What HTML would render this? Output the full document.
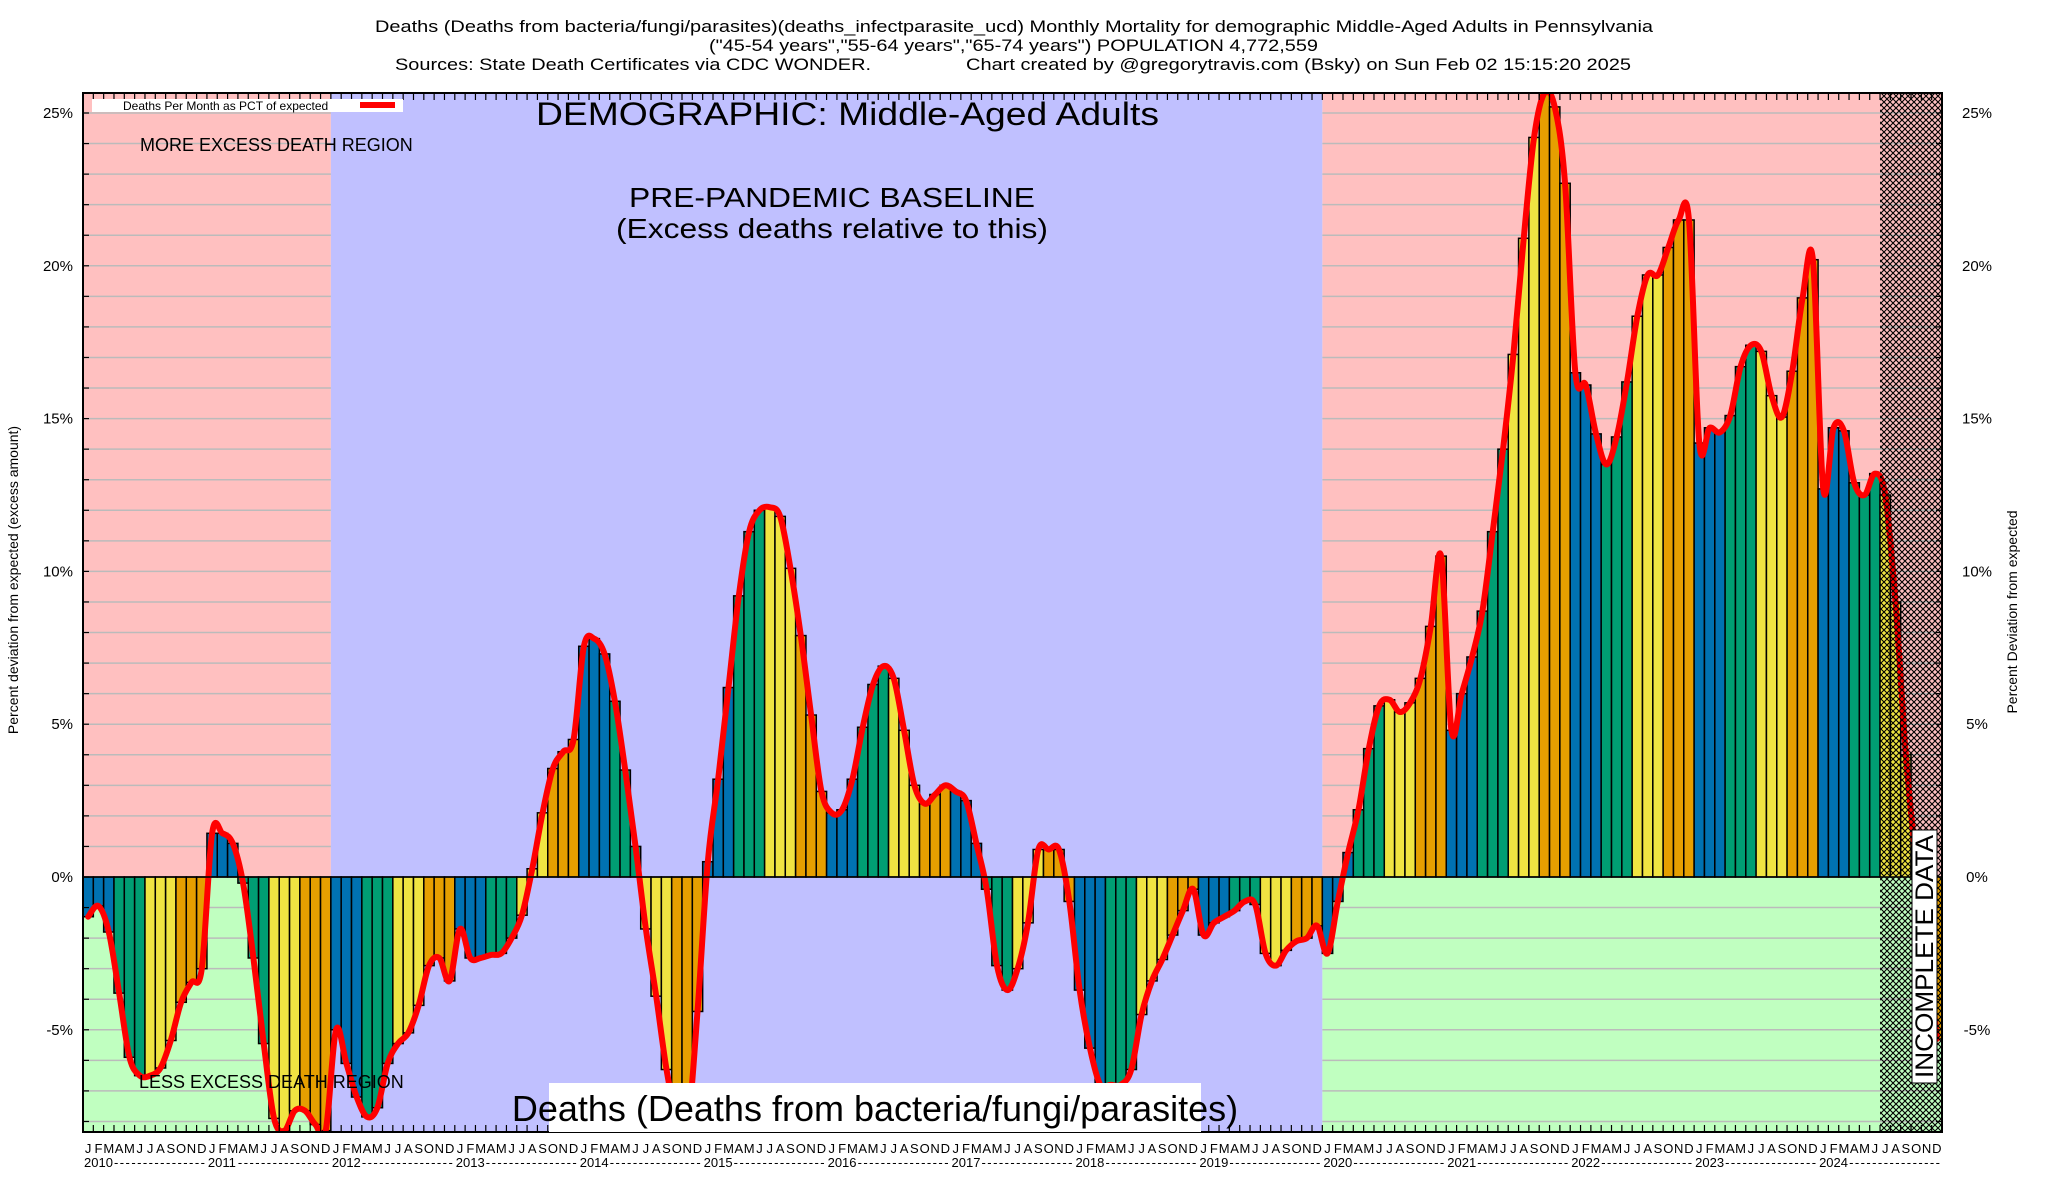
<!DOCTYPE html>
<html><head><meta charset="utf-8"><style>
html,body{margin:0;padding:0;background:#fff;}
svg{display:block;font-family:"Liberation Sans",sans-serif;}
</style></head><body>
<svg id="chart" width="2048" height="1200" viewBox="0 0 2048 1200" xmlns="http://www.w3.org/2000/svg">
<defs>
<pattern id="hatch" width="6" height="6" patternUnits="userSpaceOnUse">
<path d="M0,0 L6,6 M6,0 L0,6" stroke="#000" stroke-width="1.1"/>
</pattern>
<clipPath id="plotclip"><rect x="83" y="93" width="1859" height="1039"/></clipPath>
</defs>
<g font-size="17">
<text x="375" y="32" textLength="1278" lengthAdjust="spacingAndGlyphs">Deaths (Deaths from bacteria/fungi/parasites)(deaths_infectparasite_ucd) Monthly Mortality for demographic Middle-Aged Adults in Pennsylvania</text>
<text x="709" y="51" textLength="609" lengthAdjust="spacingAndGlyphs">("45-54 years","55-64 years","65-74 years") POPULATION 4,772,559</text>
<text x="395" y="70" textLength="476" lengthAdjust="spacingAndGlyphs">Sources: State Death Certificates via CDC WONDER.</text>
<text x="966" y="70" textLength="665" lengthAdjust="spacingAndGlyphs">Chart created by @gregorytravis.com (Bsky) on Sun Feb 02 15:15:20 2025</text>
</g>
<g id="bg"></g>
<g id="grid"></g>
<g id="bars" clip-path="url(#plotclip)"></g>
<g id="line" clip-path="url(#plotclip)"></g>
<g id="hatchg"></g>
<g id="axes"></g>
<g id="annot">
<rect x="92" y="99" width="311" height="13" fill="#fff"/>
<text x="123" y="110" font-size="12">Deaths Per Month as PCT of expected</text>
<rect x="360" y="102" width="35" height="6" fill="#ff0000"/>
<text x="536" y="125" font-size="32" textLength="623" lengthAdjust="spacingAndGlyphs">DEMOGRAPHIC: Middle-Aged Adults</text>
<text x="629" y="207" font-size="28" textLength="406" lengthAdjust="spacingAndGlyphs">PRE-PANDEMIC BASELINE</text>
<text x="616" y="238" font-size="28" textLength="432" lengthAdjust="spacingAndGlyphs">(Excess deaths relative to this)</text>
<text x="140" y="151" font-size="18">MORE EXCESS DEATH REGION</text>
<text x="139" y="1088" font-size="18">LESS EXCESS DEATH REGION</text>
<rect x="549" y="1083" width="652" height="49" fill="#fff"/>
<text x="875" y="1121" font-size="36" text-anchor="middle">Deaths (Deaths from bacteria/fungi/parasites)</text>
<g>
<rect x="1912" y="830" width="25" height="253" fill="#fff" stroke="#000" stroke-width="1"/>
<text transform="translate(1933,1078) rotate(-90)" font-size="25" textLength="243" lengthAdjust="spacingAndGlyphs">INCOMPLETE DATA</text>
</g>
<text transform="translate(18,580) rotate(-90)" font-size="14" text-anchor="middle">Percent deviation from expected (excess amount)</text>
<text transform="translate(2017,612) rotate(-90)" font-size="14" text-anchor="middle">Percent Deviation from expected</text>
</g>
</svg>
<script>
const years = [2010,2011,2012,2013,2014,2015,2016,2017,2018,2019,2020,2021,2022,2023,2024];
const monthLetters = ["J","F","M","A","M","J","J","A","S","O","N","D"];
const yTicks = [25,20,15,10,5,0,-5];
const tickLabels = ["25%","20%","15%","10%","5%","0%","-5%"];
const v2010 = [-1.3,-0.95,-1.8,-3.8,-5.9,-6.5,-6.5,-6.25,-5.35,-4.1,-3.45,-3.0];
const v2011 = [1.43,1.43,1.1,-0.2,-2.65,-5.45,-7.9,-8.3,-7.65,-7.65,-8.1,-8.3];
const v2012 = [-5.0,-6.1,-7.2,-7.85,-7.55,-6.1,-5.45,-5.1,-4.2,-2.9,-2.65,-3.4];
const v2013 = [-1.7,-2.65,-2.65,-2.55,-2.5,-2.0,-1.25,0.27,2.1,3.55,4.1,4.5];
const v2014 = [7.55,7.8,7.3,5.75,3.5,1.0,-1.7,-3.9,-6.3,-7.9,-8.3,-4.4];
const v2015 = [0.5,3.2,6.2,9.2,11.3,12.0,12.1,11.8,10.1,7.9,5.3,2.8];
const v2016 = [2.1,2.2,3.2,4.9,6.3,6.9,6.5,4.8,3.0,2.4,2.7,3.0];
const v2017 = [2.8,2.5,1.1,-0.4,-2.9,-3.7,-3.0,-1.5,0.9,0.9,0.9,-0.8];
const v2018 = [-3.7,-5.6,-6.8,-6.8,-6.8,-6.3,-4.5,-3.4,-2.7,-1.9,-1.1,-0.4];
const v2019 = [-1.9,-1.5,-1.3,-1.1,-0.8,-0.9,-2.5,-2.9,-2.4,-2.1,-2.0,-1.6];
const v2020 = [-2.5,-0.8,0.8,2.2,4.2,5.6,5.8,5.4,5.7,6.5,8.2,10.5];
const v2021 = [4.8,6.0,7.2,8.7,11.3,14.0,17.1,20.9,24.2,25.65,25.2,22.7];
const v2022 = [16.5,16.1,14.5,13.5,14.4,16.2,18.35,19.7,19.7,20.6,21.5,21.5];
const v2023 = [14.2,14.7,14.55,15.1,16.7,17.4,17.2,15.75,15.05,16.55,18.95,20.2];
const v2024 = [12.7,14.7,14.6,12.9,12.5,13.2,12.5,9.0,4.0,0.5,-2.0,-5.3];
const values = [].concat(v2010,v2011,v2012,v2013,v2014,v2015,v2016,v2017,v2018,v2019,v2020,v2021,v2022,v2023,v2024);

const NS = "http://www.w3.org/2000/svg";
const L = 83, R = 1942, T = 93, B = 1132;
const nMonths = years.length * 12;
const mw = (R - L) / nMonths;
const Y0 = 877, PER = 30.56;
const xOf = i => L + i * mw;
const yOf = v => Y0 - v * PER;
function mk(tag, attrs, parent){
  const e = document.createElementNS(NS, tag);
  for (const k in attrs) e.setAttribute(k, attrs[k]);
  parent.appendChild(e);
  return e;
}
const bg = document.getElementById('bg');
const grid = document.getElementById('grid');
const barsG = document.getElementById('bars');
const lineG = document.getElementById('line');
const axes = document.getElementById('axes');
const hatchG = document.getElementById('hatchg');

// background regions
const x2012 = xOf(24), x2020 = xOf(120), xInc = xOf(174);
let r;
r = mk('rect',{x:L,y:T,width:x2012-L,height:Y0-T,fill:'#ffc0c0'},bg);


r = mk('rect',{x:L,y:Y0,width:x2012-L,height:B-Y0,fill:'#c0ffc0'},bg);


r = mk('rect',{x:x2020,y:T,width:R-x2020,height:Y0-T,fill:'#ffc0c0'},bg);


r = mk('rect',{x:x2020,y:Y0,width:R-x2020,height:B-Y0,fill:'#c0ffc0'},bg);


// gridlines every 1%
for (let p = -8; p <= 25; p++) {
  const y = yOf(p);
  if (y < T || y > B) continue;
  const g1 = mk('line',{x1:L,x2:x2012,y1:y,y2:y,stroke:'#bbbbbb','stroke-width':1.5},grid);
  
  
  const g2 = mk('line',{x1:x2020,x2:R,y1:y,y2:y,stroke:'#bbbbbb','stroke-width':1.5},grid);
  
  
}
r = mk('rect',{x:x2012,y:T,width:x2020-x2012,height:B-T,fill:'#c0c0ff'},bg);



// bars
const qColors = ['#0072b2','#009e73','#f0e442','#e69f00'];
values.forEach((v, i) => {
  const m = i % 12;
  const y1 = yOf(Math.max(v,0)), y2 = yOf(Math.min(v,0));
  const b = mk('rect',{x:xOf(i),y:y1,width:mw,height:Math.max(y2-y1,0.5),fill:qColors[Math.floor(m/3)],stroke:'#000','stroke-width':1.5},barsG);
  
  
});

// smooth line (Catmull-Rom)
const pts = values.map((v,i) => [xOf(i)+mw/2, yOf(v)]);
let d = 'M' + pts[0][0] + ',' + pts[0][1];
for (let i = 0; i < pts.length-1; i++) {
  const p0 = pts[Math.max(i-1,0)], p1 = pts[i], p2 = pts[i+1], p3 = pts[Math.min(i+2,pts.length-1)];
  const c1x = p1[0] + (p2[0]-p0[0])/6, c1y = p1[1] + (p2[1]-p0[1])/6;
  const c2x = p2[0] - (p3[0]-p1[0])/6, c2y = p2[1] - (p3[1]-p1[1])/6;
  d += ' C' + c1x + ',' + c1y + ' ' + c2x + ',' + c2y + ' ' + p2[0] + ',' + p2[1];
}
const path = mk('path',{d:d,fill:'none',stroke:'#ff0000','stroke-width':6,'stroke-linejoin':'round','stroke-linecap':'round'},lineG);



// hatch region
r = mk('rect',{x:xInc,y:T,width:R-xInc,height:B-T,fill:'url(#hatch)'},hatchG);



// axes frame
r = mk('rect',{x:L,y:T,width:R-L,height:B-T,fill:'none',stroke:'#000','stroke-width':2},axes);


const zl = mk('line',{x1:L,x2:xInc,y1:Y0,y2:Y0,stroke:'#000','stroke-width':1.5},axes);


// month ticks
for (let i = 1; i < nMonths; i++) {
  const x = xOf(i);
  const t1 = mk('line',{x1:x,x2:x,y1:T,y2:T+7,stroke:'#000','stroke-width':1.2},axes);
  
  
  const t2 = mk('line',{x1:x,x2:x,y1:B,y2:B-7,stroke:'#000','stroke-width':1.2},axes);
  
  
}
// y ticks
for (let p = -8; p <= 25; p++) {
  const y = yOf(p);
  const t1 = mk('line',{x1:L,x2:L+6,y1:y,y2:y,stroke:'#000','stroke-width':1.2},axes);
  
  
  const t2 = mk('line',{x1:R,x2:R-6,y1:y,y2:y,stroke:'#000','stroke-width':1.2},axes);
  
  
}
yTicks.forEach((p, k) => {
  const y = yOf(p) + 5;
  const a = mk('text',{x:73,y:y,'font-size':15,'text-anchor':'end'},axes);
  a.textContent = tickLabels[k];
  
  
  const b = mk('text',{x:1977,y:y,'font-size':15,'text-anchor':'middle'},axes);
  b.textContent = tickLabels[k];
  
  
});
// x labels
for (let i = 0; i < nMonths; i++) {
  const t = mk('text',{x:xOf(i)+mw/2,y:1153,'font-size':13,'text-anchor':'middle'},axes);
  t.textContent = monthLetters[i%12];
  
  
}
years.forEach((yr, k) => {
  const x = xOf(k*12);
  const t = mk('text',{x:x+1,y:1167,'font-size':13},axes);
  t.textContent = String(yr);
  
  
  const ds = mk('text',{x:x+31,y:1167,'font-size':13,textLength:mw*12-33,lengthAdjust:'spacing'},axes);
  ds.textContent = '----------------';
  
  
});
</script>
</body></html>
